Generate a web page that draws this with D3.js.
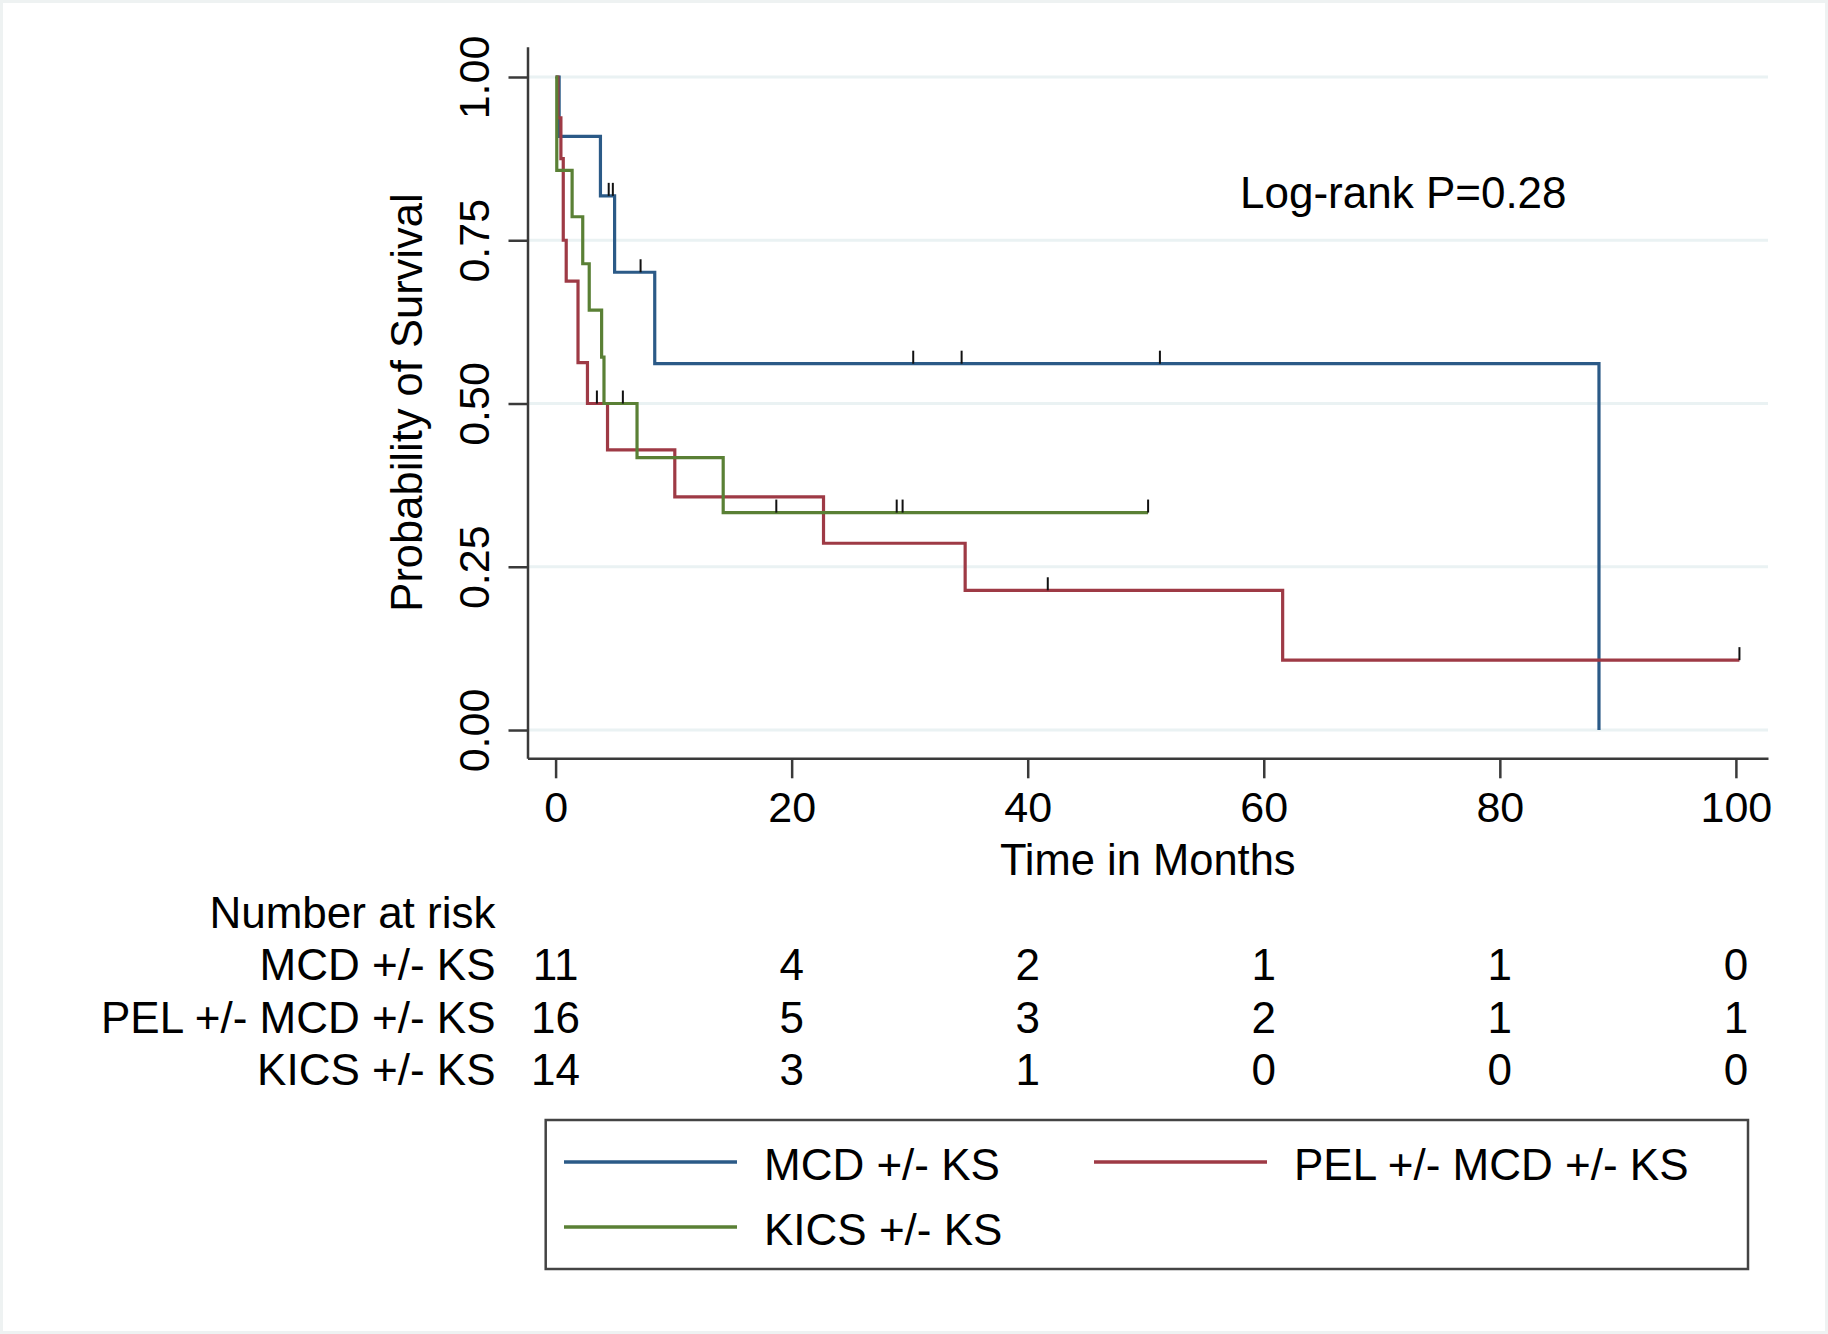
<!DOCTYPE html>
<html>
<head>
<meta charset="utf-8">
<script src="https://cdn.jsdelivr.net/npm/d3@7"></script>
<style>
  body { margin: 0; background: #fff; }
  text { font-family: "Liberation Sans", Arial, Helvetica, sans-serif; fill: #000; }
</style>
</head>
<body>
<div id="chart"></div>
<script>
// survival steps (time in months, survival after the step)
var mcdTime = [0, 0.3, 3.8, 5.0, 8.4, 88.4];
var mcdSurv = [1, 0.909, 0.818, 0.701, 0.561, 0];
var mcdCensorTime = [4.5, 4.85, 7.2, 30.3, 34.4, 51.2];
var mcdCensorSurv = [0.818, 0.818, 0.701, 0.561, 0.561, 0.561];

var pelTime = [0, 0.2, 0.45, 0.65, 0.9, 1.9, 2.7, 4.4, 10.1, 22.7, 34.7, 61.6, 100.3];
var pelSurv = [1, 0.9375, 0.875, 0.75, 0.6875, 0.5625, 0.5, 0.429, 0.357, 0.286, 0.214, 0.107, 0.107];
var pelCensorTime = [3.5, 41.7, 100.3];
var pelCensorSurv = [0.5, 0.214, 0.107];

var kicsTime = [0, 0.1, 1.4, 2.3, 2.85, 3.9, 4.1, 6.9, 14.2, 50.2];
var kicsSurv = [1, 0.857, 0.786, 0.714, 0.643, 0.571, 0.5, 0.417, 0.333, 0.333];
var kicsCensorTime = [5.7, 18.7, 28.9, 29.4, 50.2];
var kicsCensorSurv = [0.5, 0.333, 0.333, 0.333, 0.333];

var groups = ["MCD +/- KS", "PEL +/- MCD +/- KS", "KICS +/- KS"];
var colors = ["#2b5a87", "#9e3a45", "#5a8035"];

var xTicks = [0, 20, 40, 60, 80, 100];
var yTicks = [0, 0.25, 0.5, 0.75, 1];
var atRisk = [
  [11, 4, 2, 1, 1, 0],
  [16, 5, 3, 2, 1, 1],
  [14, 3, 1, 0, 0, 0]
];

var svgWidth = 1828;
var svgHeight = 1334;
var plot = { left: 527.5, right: 1768, top: 46.7, bottom: 758.3 };
var fs = 43;
var fsText = 44;

var svg = d3.select("#chart")
  .append("svg")
  .attr("width", svgWidth)
  .attr("height", svgHeight);

// faint outer frame
svg.append("rect")
  .attr("x", 1.5).attr("y", 1.5)
  .attr("width", svgWidth - 3).attr("height", svgHeight - 3)
  .attr("fill", "#fff")
  .attr("stroke", "#eef2f2")
  .attr("stroke-width", 3);

var x = d3.scaleLinear().domain([-2.38, 102.72]).range([plot.left, plot.right]);
var y = d3.scaleLinear().domain([-0.0433, 1.0464]).range([plot.bottom, plot.top]);

// gridlines
svg.append("g")
  .selectAll("line")
  .data(yTicks)
  .enter()
  .append("line")
  .attr("x1", plot.left)
  .attr("x2", plot.right)
  .attr("y1", d => y(d))
  .attr("y2", d => y(d))
  .attr("stroke", "#eaf2f3")
  .attr("stroke-width", 3);

// y axis
var yAxis = svg.append("g")
  .attr("transform", `translate(${plot.left}, 0)`)
  .call(d3.axisLeft(y).tickValues(yTicks).tickSize(19).tickSizeOuter(0).tickFormat(d3.format(".2f")));

yAxis.selectAll("text")
  .attr("transform", "rotate(-90)")
  .attr("x", 0)
  .attr("y", -39)
  .attr("dy", 0)
  .attr("text-anchor", "middle")
  .style("font-size", fs + "px")
  .style("font-family", "Liberation Sans, Arial, sans-serif")
  .attr("fill", "#000");

// x axis
var xAxis = svg.append("g")
  .attr("transform", `translate(0, ${plot.bottom})`)
  .call(d3.axisBottom(x).tickValues(xTicks).tickSize(20).tickSizeOuter(0).tickPadding(13));

xAxis.selectAll("text")
  .style("font-size", fs + "px")
  .style("font-family", "Liberation Sans, Arial, sans-serif")
  .attr("fill", "#000");

svg.selectAll(".domain, .tick line")
  .attr("stroke", "#3a3a3a")
  .attr("stroke-width", 2.5);

// axis titles
svg.append("text")
  .attr("transform", `translate(421.7, ${(plot.top + plot.bottom) / 2}) rotate(-90)`)
  .attr("text-anchor", "middle")
  .style("font-size", "43.5px")
  .text("Probability of Survival");

svg.append("text")
  .attr("x", (plot.left + plot.right) / 2)
  .attr("y", 875)
  .attr("text-anchor", "middle")
  .style("font-size", "43.5px")
  .text("Time in Months");

svg.append("text")
  .attr("x", 1240)
  .attr("y", 208)
  .style("font-size", "44px")
  .text("Log-rank P=0.28");

// curves
var line = d3.line()
  .x(d => x(d[0]))
  .y(d => y(d[1]))
  .curve(d3.curveStepAfter);

var series = [
  { t: mcdTime, s: mcdSurv, ct: mcdCensorTime, cs: mcdCensorSurv },
  { t: pelTime, s: pelSurv, ct: pelCensorTime, cs: pelCensorSurv },
  { t: kicsTime, s: kicsSurv, ct: kicsCensorTime, cs: kicsCensorSurv }
];

series.forEach(function(d, i) {
  var pts = d.t.map((t, j) => [t, d.s[j]]);
  svg.append("path")
    .datum(pts)
    .attr("d", line)
    .attr("fill", "none")
    .attr("stroke", colors[i])
    .attr("stroke-width", 3.2)
    .attr("stroke-linejoin", "miter");
});

// censor marks
series.forEach(function(d, i) {
  var cen = d.ct.map((t, j) => [t, d.cs[j]]);
  svg.append("g")
    .selectAll("line")
    .data(cen)
    .enter()
    .append("line")
    .attr("x1", c => x(c[0]))
    .attr("x2", c => x(c[0]))
    .attr("y1", c => y(c[1]))
    .attr("y2", c => y(c[1]) - 13)
    .attr("stroke", "#111")
    .attr("stroke-width", 2);
});

// number at risk table
var riskRight = 495.5;
svg.append("text")
  .attr("x", riskRight)
  .attr("y", 928)
  .attr("text-anchor", "end")
  .style("font-size", fsText + "px")
  .text("Number at risk");

var rowY = [980, 1033, 1085];
groups.forEach(function(g, i) {
  svg.append("text")
    .attr("x", riskRight)
    .attr("y", rowY[i])
    .attr("text-anchor", "end")
    .style("font-size", fsText + "px")
    .text(g);

  svg.append("g")
    .selectAll("text")
    .data(atRisk[i])
    .enter()
    .append("text")
    .attr("x", (n, j) => x(xTicks[j]))
    .attr("y", rowY[i])
    .attr("text-anchor", "middle")
    .style("font-size", fsText + "px")
    .text(n => n);
});

// legend
svg.append("rect")
  .attr("x", 545.7)
  .attr("y", 1120)
  .attr("width", 1748 - 545.7)
  .attr("height", 1269 - 1120)
  .attr("fill", "#fff")
  .attr("stroke", "#444")
  .attr("stroke-width", 2.5);

var legendPos = [
  { lx: 564, ty: 1180, ly: 1162 },
  { lx: 1094, ty: 1180, ly: 1162 },
  { lx: 564, ty: 1245, ly: 1227 }
];

groups.forEach(function(g, i) {
  var p = legendPos[i];
  svg.append("line")
    .attr("x1", p.lx)
    .attr("x2", p.lx + 173)
    .attr("y1", p.ly)
    .attr("y2", p.ly)
    .attr("stroke", colors[i])
    .attr("stroke-width", 3.5);
  svg.append("text")
    .attr("x", p.lx + 200)
    .attr("y", p.ty)
    .style("font-size", fsText + "px")
    .text(g);
});
</script>
</body>
</html>
